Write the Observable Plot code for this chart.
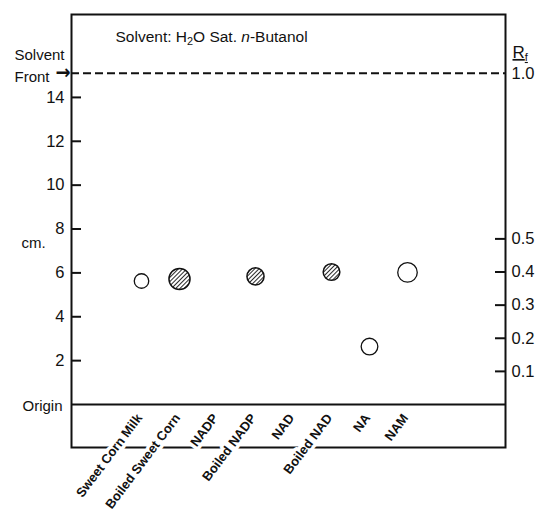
<!DOCTYPE html>
<html><head><meta charset="utf-8">
<script src="https://cdn.jsdelivr.net/npm/d3@7"></script>
<script src="https://cdn.jsdelivr.net/npm/@observablehq/plot@0.6"></script>
<style>
body{margin:0;background:#fff}
.rf-title text{text-decoration:underline}
</style></head><body><div id="chart"></div>
<script>
// ---- data ----
const categories = ["Sweet Corn Milk","Boiled Sweet Corn","NADP","Boiled NADP","NAD","Boiled NAD","NA","NAM"];
const spotDistanceCm = [5.63, 5.72, null, 5.84, null, 6.04, 2.64, 6.02];
const spotDiameterCm = [0.66, 0.96, null, 0.78, null, 0.76, 0.76, 0.89];
const spotKind = ["open","hatched",null,"hatched",null,"hatched","open","open"];
const solventFrontCm = 15.1;
const cmTicks = [2,4,6,8,10,12,14];
const rfTicks = [0.1,0.2,0.3,0.4,0.5];
const rfLabels = [0.1,0.2,0.3,0.4,0.5,1.0];
const yDomainCm = [-1.96, 17.78];

// ---- layout ----
const W = 538, H = 514;
const mL = 71, mR = 33, mT = 14, mB = 67;
const plotW = W - mL - mR, plotH = H - mT - mB;
const pxPerCm = plotH / (yDomainCm[1] - yDomainCm[0]);
const FONT = '"Liberation Sans Narrow","Liberation Sans",Arial,sans-serif';
const INK = "#111";

const spots = categories.map((c, i) => ({category: c, cm: spotDistanceCm[i], radius: spotDiameterCm[i] / 2, kind: spotKind[i]}))
  .filter(d => d.kind);

const chart = Plot.plot({
  width: W, height: H,
  marginLeft: mL, marginRight: mR, marginTop: mT, marginBottom: mB,
  style: {fontFamily: FONT, fontSize: "16.5px", fontStretch: "condensed", color: INK, background: "#fff", overflow: "visible"},
  x: {type: "point", domain: categories, range: [140, 407], padding: 0, axis: null},
  y: {domain: yDomainCm, axis: null},
  r: {type: "linear", domain: [0, 1], range: [0, pxPerCm]},
  marks: [
    Plot.frame({stroke: INK, strokeWidth: 2}),
    Plot.ruleY([0], {stroke: INK, strokeWidth: 2}),
    Plot.ruleY([solventFrontCm], {stroke: INK, strokeWidth: 2, strokeDasharray: "8,4"}),
    Plot.ruleY(cmTicks, {y: d => d, insetRight: plotW - 10, stroke: INK, strokeWidth: 2}),
    Plot.ruleY(rfTicks, {y: d => d * solventFrontCm, insetLeft: plotW - 10, stroke: INK, strokeWidth: 2}),
    Plot.text(cmTicks, {y: d => d, text: d => String(d), frameAnchor: "left", textAnchor: "end", dx: -7, fill: INK}),
    Plot.text(rfLabels, {y: d => d * solventFrontCm, text: d => d.toFixed(1), frameAnchor: "right", textAnchor: "start", dx: 6, fill: INK}),
    Plot.dot(spots.filter(d => d.kind === "open"), {x: "category", y: "cm", r: "radius", fill: "white", stroke: INK, strokeWidth: 1.3}),
    Plot.dot(spots.filter(d => d.kind === "hatched"), {x: "category", y: "cm", r: "radius", fill: "url(#hatch)", stroke: INK, strokeWidth: 1.5}),
    Plot.text(categories, {x: d => d, y: 0, text: d => d, rotate: -53, textAnchor: "end", dx: -2, dy: 11,
      fontSize: 13, fontWeight: "bold", fill: INK, stroke: "white", strokeWidth: 7}),
    Plot.text(["Solvent"], {y: solventFrontCm, frameAnchor: "left", textAnchor: "start", dx: -57, dy: -18, fontSize: 15, fill: INK}),
    Plot.text(["Front"], {y: solventFrontCm, frameAnchor: "left", textAnchor: "start", dx: -57, dy: 4, fontSize: 15, fill: INK}),
    Plot.text(["→"], {y: solventFrontCm, frameAnchor: "left", textAnchor: "end", dx: -1, dy: -1, fontFamily: "DejaVu Sans", fontSize: 20, fontWeight: "bold", fill: INK}),
    Plot.text(["cm."], {y: 7.35, frameAnchor: "left", textAnchor: "start", dx: -50, fontSize: 15, fill: INK}),
    Plot.text(["Origin"], {y: 0, frameAnchor: "left", textAnchor: "end", dx: -9, dy: 2, fontSize: 15, fill: INK}),
    Plot.text(["Solvent: H2O Sat. n-Butanol"], {frameAnchor: "top-left", lineAnchor: "middle", textAnchor: "start", dx: 44, dy: 23, fontSize: 15.5, fill: INK, className: "chart-title"}),
    Plot.text(["Rf"], {frameAnchor: "top-right", lineAnchor: "middle", textAnchor: "start", dx: 7, dy: 38, fontSize: 17, fill: INK, className: "rf-title"})
  ]
});

document.getElementById("chart").appendChild(chart);

// hatch pattern + rich text pieces
const svg = d3.select(chart);
const pat = svg.insert("defs", ":first-child").append("pattern")
  .attr("id", "hatch").attr("patternUnits", "userSpaceOnUse")
  .attr("width", 3).attr("height", 3).attr("patternTransform", "rotate(45)");
pat.append("rect").attr("width", 3).attr("height", 3).attr("fill", "white");
pat.append("line").attr("x1", 0.5).attr("y1", 0).attr("x2", 0.5).attr("y2", 3).attr("stroke", INK).attr("stroke-width", 0.9);

svg.select(".chart-title text").html('Solvent: H<tspan font-size="70%" dy="3">2</tspan><tspan dy="-3">O Sat. </tspan><tspan font-style="italic">n</tspan>-Butanol');
svg.select(".rf-title text").html('R<tspan font-size="65%" dy="3">f</tspan>');
</script></body></html>
